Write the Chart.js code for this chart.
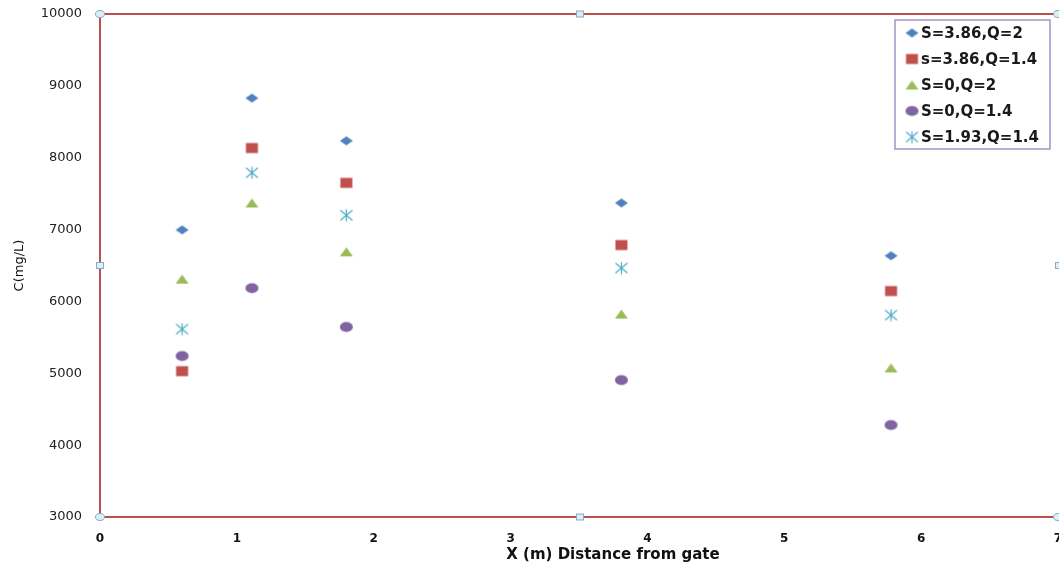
<!DOCTYPE html>
<html>
<head>
<meta charset="utf-8">
<script src="https://cdn.jsdelivr.net/npm/chart.js@4/dist/chart.umd.min.js"></script>
<style>
  html, body { margin: 0; padding: 0; background: #ffffff; }
  #wrap { width: 1059px; height: 565px; position: relative; }
</style>
</head>
<body>
<div id="wrap"><canvas id="c" width="1059" height="565"></canvas></div>
<script>
// Sampling positions along the channel (m from gate)
const distances = [0.6, 1.11, 1.8, 3.81, 5.78];

// Concentration C (mg/L) for each run
const s386q2  = [6995, 8830, 8235, 7370, 6635];
const s386q14 = [5030, 8135, 7650, 6785, 6145];
const s0q2    = [6310, 7370, 6690, 5825, 5075];
const s0q14   = [5240, 6185, 5645, 4905, 4280];
const s193q14 = [5615, 7790, 7200, 6465, 5810];

const seriesLabels = ['S=3.86,Q=2', 's=3.86,Q=1.4', 'S=0,Q=2', 'S=0,Q=1.4', 'S=1.93,Q=1.4'];
const yTicks = [3000, 4000, 5000, 6000, 7000, 8000, 9000, 10000];
const xTitle = 'X (m) Distance from gate';
const yTitle = 'C(mg/L)';

const FONT = '"DejaVu Sans", Verdana, sans-serif';

// Marker bitmaps (slightly wide, like the original export)
function marker(kind, color) {
  const w = 15, h = 13;
  const cv = document.createElement('canvas');
  cv.width = w; cv.height = h;
  const g = cv.getContext('2d');
  g.fillStyle = color; g.strokeStyle = color;
  const cx = w / 2, cy = h / 2;
  g.beginPath();
  if (kind === 'diamond') {
    g.moveTo(cx - 6.5, cy); g.lineTo(cx, cy - 4.5); g.lineTo(cx + 6.5, cy); g.lineTo(cx, cy + 4.5);
    g.closePath(); g.fill();
  } else if (kind === 'square') {
    g.fillRect(cx - 6, cy - 5, 12, 10);
  } else if (kind === 'triangle') {
    g.moveTo(cx - 6.5, cy + 4.5); g.lineTo(cx, cy - 4.5); g.lineTo(cx + 6.5, cy + 4.5);
    g.closePath(); g.fill();
  } else if (kind === 'circle') {
    g.ellipse(cx, cy, 6.5, 5, 0, 0, Math.PI * 2); g.fill();
  } else if (kind === 'star') {
    g.lineWidth = 1.2;
    g.moveTo(cx - 6, cy - 5); g.lineTo(cx + 6, cy + 5);
    g.moveTo(cx - 6, cy + 5); g.lineTo(cx + 6, cy - 5);
    g.moveTo(cx, cy - 6); g.lineTo(cx, cy + 6);
    g.stroke();
  }
  return cv;
}

const colors = ['#4f81bd', '#c0504d', '#9bbb59', '#8064a2', '#4bacc6'];
const kinds = ['diamond', 'square', 'triangle', 'circle', 'star'];
const values = [s386q2, s386q14, s0q2, s0q14, s193q14];

const datasets = values.map((vals, i) => ({
  label: seriesLabels[i],
  data: distances.map((x, j) => ({ x: x, y: vals[j] })),
  pointStyle: marker(kinds[i], colors[i]),
  backgroundColor: colors[i],
  borderColor: colors[i],
  showLine: false,
  pointRadius: 7,
  pointHoverRadius: 7
}));

// Axes keep a fixed footprint; tick labels may hang past the plot edges
function noOverhang(s) {
  s.paddingLeft = 0; s.paddingRight = 0; s.paddingTop = 0; s.paddingBottom = 0;
}

// Plot frame, selection handles, x-axis caption (set off-centre) and the boxed legend
const framePlugin = {
  id: 'frame',
  afterDatasetsDraw(chart) {
    const { ctx, chartArea: a } = chart;
    ctx.save();
    ctx.strokeStyle = '#b9504e';
    ctx.lineWidth = 2;
    ctx.strokeRect(a.left, a.top, a.right - a.left + 2, a.bottom - a.top);

    // handles
    const midX = (a.left + a.right + 2) / 2, midY = (a.top + a.bottom) / 2;
    ctx.fillStyle = '#d9f0f6';
    ctx.strokeStyle = '#8aa9c4';
    ctx.lineWidth = 1;
    const circ = (x, y) => { ctx.beginPath(); ctx.ellipse(x, y, 4.5, 3.5, 0, 0, Math.PI * 2); ctx.fill(); ctx.stroke(); };
    const sq = (x, y) => { ctx.fillRect(x - 3.5, y - 3, 7, 6); ctx.strokeRect(x - 3.5, y - 3, 7, 6); };
    circ(a.left, a.top); circ(a.left, a.bottom);
    circ(a.right, a.top); circ(a.right, a.bottom);
    sq(midX, a.top); sq(midX, a.bottom); sq(a.left, midY); sq(a.right + 1, midY);

    // x-axis caption
    ctx.font = 'bold 15px ' + FONT;
    ctx.fillStyle = '#111';
    ctx.textAlign = 'center';
    ctx.textBaseline = 'middle';
    ctx.fillText(xTitle, midX + 33, a.bottom + 38);

    // legend box
    const lx = 895, ly = 20, lw = 155, lh = 129;
    ctx.fillStyle = '#ffffff';
    ctx.fillRect(lx, ly, lw, lh);
    ctx.strokeStyle = '#a592c6';
    ctx.lineWidth = 1.5;
    ctx.strokeRect(lx, ly, lw, lh);
    ctx.font = 'bold 15px ' + FONT;
    ctx.textBaseline = 'middle';
    ctx.textAlign = 'left';
    chart.data.datasets.forEach((ds, i) => {
      const y = ly + 13 + i * 26;
      ctx.drawImage(ds.pointStyle, lx + 17 - 7.5, y - 6.5);
      ctx.fillStyle = '#1a1a1a';
      ctx.fillText(ds.label, lx + 26, y + 1);
    });
    ctx.restore();
  }
};

new Chart(document.getElementById('c'), {
  type: 'scatter',
  data: { datasets: datasets },
  options: {
    responsive: false,
    animation: false,
    devicePixelRatio: 1,
    layout: { autoPadding: false, padding: { top: 14, right: 1, left: 0, bottom: 0 } },
    plugins: { legend: { display: false }, tooltip: { enabled: false } },
    scales: {
      x: {
        type: 'linear', min: 0, max: 7,
        afterFit(s) { s.height = 48; noOverhang(s); },
        ticks: { stepSize: 1, padding: 15, color: '#111', font: { family: FONT, size: 12, weight: 'bold' } },
        grid: { display: false, drawTicks: false },
        border: { display: false },
        title: { display: false }
      },
      y: {
        type: 'linear', min: 3000, max: 10000,
        afterFit(s) { s.width = 100; noOverhang(s); },
        afterBuildTicks(s) { s.ticks = yTicks.map(v => ({ value: v })); },
        ticks: { padding: 18, color: '#222', font: { family: FONT, size: 13 },
                 callback: v => String(v) },
        grid: { display: false, drawTicks: false },
        border: { display: false },
        title: { display: true, text: yTitle, color: '#111', padding: { top: 12, bottom: 0 },
                 font: { family: FONT, size: 13 } }
      }
    }
  },
  plugins: [framePlugin]
});
</script>
</body>
</html>
